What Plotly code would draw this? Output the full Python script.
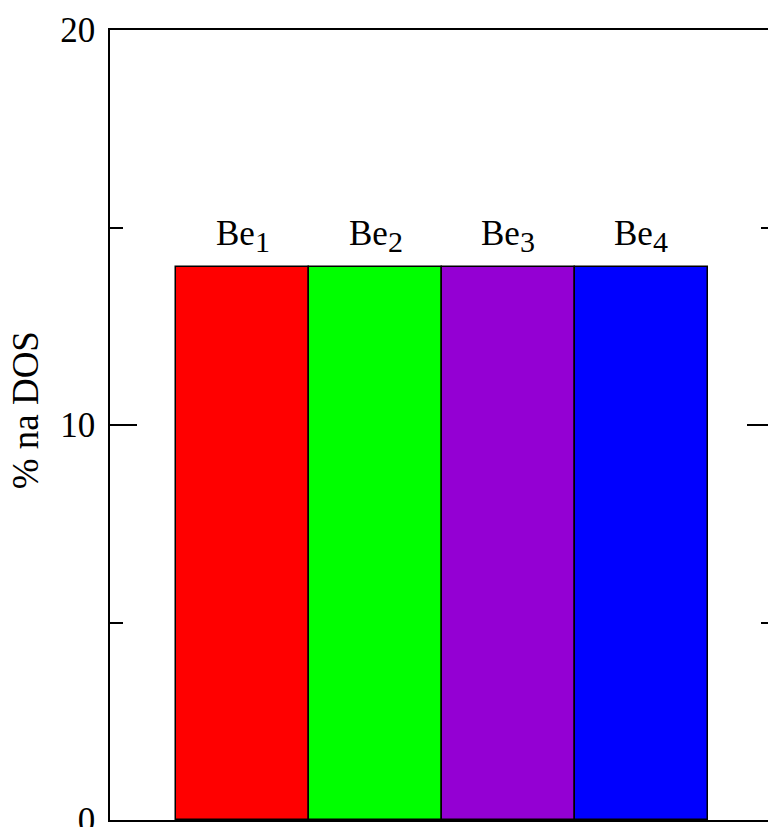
import plotly.graph_objects as go

categories = ["Be1", "Be2", "Be3", "Be4"]
subscripts = ["1", "2", "3", "4"]
values = [14.0, 14.0, 14.0, 14.0]
colors = ["#FF0000", "#00FF00", "#9400D3", "#0000FF"]
y_ticks = [0, 10, 20]
y_title = "% na DOS"

FONT = "Liberation Serif, Times New Roman, serif"

fig = go.Figure()
fig.add_trace(go.Bar(
    x=list(range(len(categories))),
    y=values,
    marker=dict(color=colors, line=dict(color="black", width=1.5)),
    width=1.0,
    hoverinfo="skip",
))

for i, (v, s) in enumerate(zip(values, subscripts)):
    fig.add_annotation(
        x=i, y=v, xref="x", yref="y",
        text="Be<sub><span style='font-size:30px'>" + s + "</span></sub>",
        showarrow=False, yanchor="bottom", xanchor="center", yshift=7,
        font=dict(family=FONT, size=35, color="black"),
    )

fig.add_annotation(
    x=-0.126, y=0.519, xref="paper", yref="paper", text=y_title, textangle=-90,
    showarrow=False, xanchor="center", yanchor="middle",
    font=dict(family=FONT, size=37, color="black"),
)

fig.update_layout(
    width=808, height=847,
    margin=dict(l=110, r=34, t=30, b=27, autoexpand=False),
    plot_bgcolor="white", paper_bgcolor="white",
    showlegend=False, bargap=0,
    font=dict(family=FONT, size=34, color="black"),
)
fig.update_xaxes(
    range=[-1, 4], showticklabels=False, ticks="", showgrid=False, automargin=False,
    zeroline=False, showline=True, linecolor="black", linewidth=1.5, mirror=True,
)
fig.update_yaxes(
    range=[0, 20], tickvals=y_ticks, ticktext=[str(v) for v in y_ticks],
    ticks="inside", ticklen=27, tickwidth=1.5, tickcolor="black", automargin=False,
    minor=dict(dtick=5, ticks="inside", ticklen=13, tickwidth=1.5, tickcolor="black", showgrid=False),
    showgrid=False, zeroline=False, showline=True, linecolor="black", linewidth=1.5,
    mirror="allticks", ticklabelstandoff=6,
    tickfont=dict(family=FONT, size=35, color="black"),
)

fig.write_html(
    "out.html",
    post_script="document.body.style.margin='0';document.body.style.overflow='hidden';document.documentElement.style.overflow='hidden';",
)
